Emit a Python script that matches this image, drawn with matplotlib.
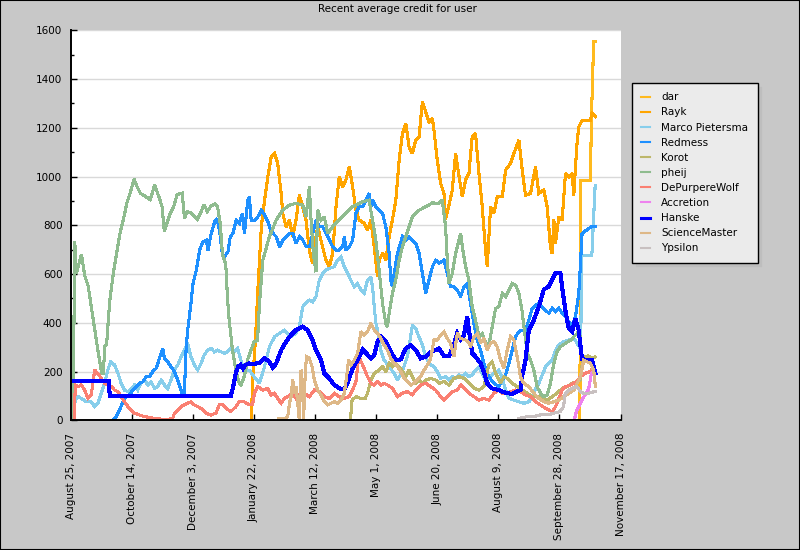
import datetime
import matplotlib
matplotlib.use('Agg')
import matplotlib.pyplot as plt
import matplotlib.dates as mdates
from matplotlib.ticker import MultipleLocator, FixedLocator, FuncFormatter
from matplotlib.patches import Rectangle

# Day offsets are counted from the first date on the x axis
start = datetime.datetime(2007, 8, 25)

dar_d = [416.7, 417.3, 425.3, 426.2, 427.3, 428.0, 429.3]
dar_v = [0, 985, 985, 1245, 1437, 1553, 1553]

rayk_d = [147.7, 149, 151.3, 153.3, 156, 158.7, 161.3, 164.1, 166.8, 169.4, 172.2, 173.5, 176.3, 179, 181.7,
          184.4, 187.1, 189.9, 192.6, 195.3, 198, 199.4, 202.1, 204.8, 208.9, 211.6, 214.4, 217.1, 219.8,
          222.5, 225.2, 228, 230.7, 233.4, 236.1, 240.2, 242.9, 245.6, 248.4, 251.1, 252.5, 255.2, 257.9,
          260.6, 263.3, 266.1, 268.8, 271.5, 274.2, 276.9, 279.6, 282.4, 285.1, 287.8, 290.5, 293.2, 296,
          297.3, 300, 302.7, 305.5, 306.8, 309.5, 312.3, 315, 317.7, 320.5, 323.2, 325.9, 328.6, 331.3,
          334.1, 336.8, 339.5, 340.9, 343.6, 346.3, 349.1, 353.2, 355.9, 360, 362.7, 366.8, 369.5, 372.2,
          376.3, 380.4, 383.1, 387.2, 389.9, 392.6, 394, 395.4, 396.7, 399.5, 402.2, 404.9, 407.6, 410.4,
          411.7, 413.1, 414.4, 415.8, 418.5, 425.3, 426.6, 429.4]
rayk_v = [0, 165, 343, 548, 794, 904, 999, 1081, 1095, 1054, 931, 849, 794, 822, 753,
          822, 924, 876, 822, 698, 644, 712, 794, 739, 657, 630, 685, 876, 999,
          958, 986, 1040, 958, 863, 822, 808, 780, 822, 712, 589, 657, 685, 657,
          753, 822, 904, 1068, 1177, 1218, 1122, 1095, 1149, 1163, 1307, 1266, 1225, 1238,
          1190, 1067, 973, 931, 826, 880, 945, 1095, 1004, 917, 986, 1013, 1163, 1177,
          1013, 876, 698, 630, 876, 849, 917, 917, 1027, 1054, 1095, 1149, 1027, 923,
          931, 1040, 931, 945, 876, 712, 685, 822, 726, 835, 822, 1013, 999, 1013,
          923, 1040, 1136, 1204, 1231, 1231, 1259, 1245]

marco_d = [2.7, 4, 6, 8.7, 12.8, 16.8, 19.6, 22.3, 25, 27.7, 30.4, 32.6, 35.9, 38.6, 41.3, 44, 46.8, 49.5,
           52.2, 54.9, 57.6, 60.4, 63.1, 65.8, 68.5, 71.2, 74, 76.7, 79.4, 82.1, 84.8, 87.6, 90.3, 93,
           95.7, 98.4, 101.2, 103.9, 106.6, 109.3, 112.1, 114.8, 117.5, 120.2, 122.9, 125.7, 128.4, 131.1,
           133.8, 136.5, 139.3, 142, 146.1, 150.1, 154.5, 158.6, 162.6, 166.8, 170.9, 175, 177.6, 180.3,
           184.4, 187.1, 188.5, 189.9, 192.6, 195.3, 198, 200.7, 203.4, 206.2, 208.9, 211.6, 215.7, 218.4,
           221.1, 223.9, 226.6, 229.3, 232, 234.8, 237.5, 240.2, 242.9, 245.6, 247, 248.4, 249.7, 251,
           253.7, 256.5, 260.5, 264.6, 267.4, 271.4, 275.5, 278.2, 279.6, 282.3, 285, 287.8, 290.5, 293.2,
           297.3, 300, 302.7, 306.8, 309.6, 312.3, 315, 317.7, 320.4, 323.2, 325.9, 328.6, 331.3, 334.1,
           336.8, 339.5, 342.2, 346.3, 350.4, 353.2, 355.9, 358.6, 362.7, 366.8, 370.9, 375, 377.8, 380.5,
           383.2, 385.9, 388.7, 391.4, 394.1, 396.8, 399.5, 403.6, 407.7, 411.8, 414.5, 417.3, 418.3,
           426.5, 429.2]
marco_v = [56, 83, 97, 90, 76, 76, 56, 70, 111, 152, 206, 240, 227, 193, 152, 124, 118, 131,
           145, 124, 152, 165, 145, 158, 131, 138, 165, 145, 131, 165, 206, 227, 261, 288,
           316, 261, 227, 206, 233, 268, 288, 295, 281, 288, 281, 275, 281, 295,
           281, 295, 247, 206, 206, 179, 152, 220, 302, 343, 357, 370, 357, 343,
           357, 384, 425, 466, 480, 493, 486, 507, 575, 602, 616, 623, 630, 657,
           671, 630, 602, 575, 548, 561, 534, 521, 575, 589, 548, 466, 400, 370,
           288, 247, 220, 193, 165, 200, 261, 343, 391, 377, 343, 309, 261, 233,
           220, 200, 172, 179, 165, 179, 172, 186, 179, 193, 179, 186, 206, 220,
           193, 165, 172, 193, 206, 172, 124, 90, 83, 76, 70, 76, 97, 131,
           152, 186, 220, 234, 247, 288, 309, 323, 329, 336, 316, 290, 677,
           677, 965]

redmess_d = [34.5, 37.2, 40, 42.7, 45.4, 48.1, 50.8, 53.6, 56.3, 59, 61.7, 64.4, 67.2, 69.9, 72.6, 75.3,
             76.7, 79.4, 82.1, 84.8, 87.6, 90.3, 91.6, 93, 94.4, 95.7, 97.1, 98.4, 100.1, 102.8, 105.5,
             108.2, 111, 112.3, 115, 117.8, 119.7, 121.8, 124, 125.9, 128.7, 130.6, 132.7, 135.4, 138.1,
             140.4, 142.2, 144.9, 146.2, 147.7, 150.5, 153.2, 156, 158.7, 161.4, 164.1, 168.2, 170.9,
             173.6, 176.3, 179.1, 181.8, 184.5, 187.2, 189.9, 192.6, 195.4, 198.1, 200.8, 203.5, 206.2,
             209, 211.7, 214.4, 217.1, 219.8, 222.5, 223.9, 225.3, 228, 230.7, 233.4, 236.1, 238.9,
             241.6, 244.3, 245.7, 247, 249.7, 252.4, 255.2, 257.9, 260.6, 262, 263.3, 264.7, 267.4,
             271.5, 274.2, 276.9, 279.6, 282.4, 285.1, 287.8, 290.5, 293.2, 296, 298.7, 301.4, 305.5,
             308.2, 310.9, 313.6, 316.4, 319.1, 321.8, 324.5, 327.2, 330, 332.7, 335.4, 338.1, 342.2,
             346.3, 350.4, 353.2, 355.9, 358.6, 361.3, 364.1, 366.8, 369.5, 372.2, 374.9, 377.7, 380.4,
             383.1, 385.8, 388.6, 391.3, 394, 396.7, 399.5, 402.2, 404.9, 407.6, 410.4, 413.1, 415.8,
             417.2, 418.5, 426, 429.2]
redmess_v = [0, 15, 42, 76, 97, 104, 124, 138, 152, 158, 179, 179, 200, 213, 254, 295,
             254, 240, 220, 200, 165, 124, 104, 111, 288, 370, 425, 480, 562, 616, 698,
             733, 739, 698, 767, 815, 828, 780, 685, 671, 692, 753, 767, 821, 808,
             849, 767, 903, 917, 821, 821, 835, 862, 842, 815, 774, 753, 712,
             739, 753, 767, 767, 726, 753, 739, 712, 712, 767, 821, 794, 794,
             767, 739, 712, 698, 698, 712, 753, 698, 712, 739, 849, 876, 876,
             903, 931, 876, 903, 876, 862, 849, 794, 685, 575, 548, 602, 685,
             753, 739, 753, 739, 726, 685, 602, 521, 575, 630, 657, 644, 657,
             602, 548, 548, 534, 507, 548, 562, 480, 397, 329, 288, 234, 179,
             152, 138, 165, 186, 234, 288, 343, 364, 370, 370, 411, 459, 473,
             480, 466, 452, 439, 459, 446, 459, 439, 425, 405, 391, 425, 521,
             644, 767, 794, 794]

korot_d = [228.9, 230.3, 231.7, 233.9, 237.1, 241, 242.9, 245.6, 248.4, 252.4, 255.2, 257.9, 260.6, 263.3,
           266.1, 270.1, 274.2, 276.9, 279.6, 282.4, 285.1, 287.8, 290.5, 294.6, 298.7, 301.4, 305.5,
           309.6, 313.6, 317.7, 321.8, 325.9, 330, 334.1, 338.1, 342.2, 344.9, 347.7, 351.8, 354.5,
           357.2, 361.3, 365.4, 369.5, 373.6, 377.7, 381.7, 385.8, 389.9, 394, 398.1, 402.2, 406.3,
           410.4, 414.4, 417.2, 419.2, 423.2, 427.3, 429.3]
korot_v = [0, 83, 90, 97, 90, 90, 111, 165, 193, 206, 220, 200, 233, 220,
           233, 213, 179, 206, 179, 152, 165, 152, 165, 172, 165, 152, 159,
           145, 172, 179, 172, 152, 131, 124, 138, 227, 240, 193, 152, 179,
           172, 152, 138, 124, 111, 97, 97, 97, 83, 97, 111, 131, 138,
           152, 159, 165, 261, 264, 254, 260]

pheij_d = [1.9, 3.3, 4.7, 8.8, 11.5, 14.3, 18.4, 22.5, 25.3, 26.6, 28, 29.4, 30.8, 32.1, 34.9, 37.6, 40.4,
           43.1, 45.9, 48.6, 51.9, 54.1, 56.9, 61, 65.1, 68.7, 72, 74.7, 76.6, 78.8, 81.6, 84.3, 87.1,
           91.2, 93.1, 95.3, 98.1, 100.8, 103.6, 106.3, 109.1, 111.8, 114.6, 117.9, 120.1, 122.3, 124.2,
           126.9, 128.3, 129.7, 132.4, 135.2, 137.9, 139.3, 142, 144.7, 147.5, 150.1, 152.9, 154.5,
           157.2, 162.6, 168.1, 173.5, 179, 184.4, 189.9, 192.6, 195.3, 196.7, 198.6, 200.7, 202.1,
           204.8, 207.5, 210.3, 214.4, 219.8, 225.2, 230.7, 238.8, 244.2, 247, 249.7, 252.4, 255.2,
           257.9, 259.2, 260.6, 263.3, 266, 268.8, 271.5, 274.2, 276.9, 279.6, 285.1, 290.5, 296,
           301.4, 304.1, 306.8, 308.2, 309.6, 312.3, 315, 317.7, 319.1, 320.5, 323.2, 325.9, 328.6,
           331.3, 334.1, 336.8, 338.1, 341, 343, 345, 347.7, 350.4, 353.2, 355.9, 358.6, 361.3, 364.1,
           366.8, 369.5, 370.9, 373.6, 376.3, 379, 381.7, 384.5, 387.2, 389.9, 392.6, 395.4, 398.1,
           400.8, 404.9, 409, 411.8, 414.5, 417.2]
pheij_v = [0, 735, 605, 680, 592, 550, 414, 278, 196, 190, 305, 312, 414, 496, 605, 687, 769,
           823, 892, 932, 990, 960, 932, 919, 905, 967, 919, 878, 776, 810, 851, 878, 926,
           932, 830, 857, 851, 837, 823, 851, 885, 857, 878, 887, 878, 810, 680,
           640, 500, 411, 288, 206, 152, 145, 179, 247, 288, 322, 329, 480,
           657, 753, 821, 862, 883, 890, 883, 835, 958, 821, 685, 609, 862,
           821, 835, 767, 794, 821, 849, 876, 897, 903, 821, 739, 616, 479,
           397, 384, 438, 521, 575, 657, 712, 753, 794, 835, 862, 876, 892,
           890, 903, 794, 657, 562, 602, 685, 739, 767, 712, 630, 575, 466,
           411, 343, 357, 336, 302, 329, 384, 459, 466, 521, 507, 534, 562, 555,
           521, 446, 384, 275, 247, 206, 138, 111, 97, 104, 152, 234, 282,
           302, 316, 329, 343, 357, 343]

wolf_d = [2.7, 3.8, 6, 8.7, 11.4, 14.1, 16.8, 19.6, 22.3, 25, 27.7, 30.4, 33.2, 35.9, 38.6, 41.3, 44, 46.8,
          49.5, 52.2, 56.3, 60.4, 64.4, 68.5, 74, 79.4, 83.5, 84.8, 87.6, 90.3, 93, 95.7, 98.4, 101.2,
          103.9, 106.6, 110.7, 114.8, 118.8, 121.6, 124.3, 127, 131.1, 135.2, 137.9, 142, 146.1, 148.8,
          150.4, 153.1, 157.2, 161.3, 164, 166.7, 169.4, 172.2, 174.9, 177.6, 181.7, 184.4, 187.1, 191.2,
          195.3, 199.4, 203.4, 207.5, 211.6, 215.7, 219.8, 223.9, 227.9, 230.7, 233.4, 235.2, 237.1,
          240.2, 242.9, 245.6, 248.4, 251.1, 253.8, 256.5, 259.2, 263.3, 267.4, 271.5, 275.5, 279.6,
          282.4, 286.4, 290.5, 294.6, 298.7, 302.7, 305.5, 308.2, 312.3, 316.4, 319.1, 323.2, 325.9,
          330, 334.1, 338.1, 342.2, 346.3, 350.4, 353.2, 357.2, 360, 364.1, 368.2, 372.2, 376.3, 380.4,
          384.5, 388.6, 391.3, 394, 396.8, 399.5, 402.2, 404.9, 409, 411.7, 414.4, 417.2, 421.2, 425.3,
          428]
wolf_v = [0, 145, 138, 145, 124, 90, 104, 206, 192, 172, 152, 145, 138, 124, 118, 97, 76, 56,
          42, 29, 22, 15, 12, 8, 5, 4, 8, 29, 42, 56, 63, 70, 76, 63,
          56, 49, 29, 22, 29, 63, 63, 49, 36, 56, 76, 76, 63, 63,
          111, 138, 124, 131, 104, 111, 90, 70, 90, 97, 111, 90, 104, 111,
          97, 124, 118, 97, 90, 111, 97, 90, 97, 124, 158, 240, 247,
          213, 179, 152, 145, 158, 145, 152, 145, 131, 97, 111, 118, 104,
          124, 145, 152, 138, 124, 97, 83, 97, 117, 124, 145, 124, 111,
          97, 83, 90, 83, 111, 124, 111, 111, 117, 124, 117, 104, 97, 76,
          63, 49, 42, 35, 56, 90, 124, 138, 145, 152, 159, 179, 193, 200,
          220]

accretion_d = [368.5, 412, 414, 417, 420, 423, 424.5, 425.5, 426.5]
accretion_v = [0, 0, 40, 70, 97, 120, 140, 180, 195]

hanske_d = [0, 31, 32, 131, 133, 135, 137, 139, 141, 143, 146, 150, 154.5, 158.6, 162.6, 165.4, 168.1, 172.2,
            176.2, 180.3, 184.4, 189.9, 193.9, 198, 200.7, 204.8, 207.5, 211.6, 215.7, 219.8, 223.9, 226.6,
            229.3, 232, 234.8, 238.9, 241.5, 245.6, 248.4, 251.1, 253.8, 257.9, 262, 266.1, 270.1, 274.2,
            278.3, 282.4, 286.4, 290.5, 294.6, 298.7, 301.4, 305.5, 309.6, 313.6, 316.3, 319.1, 321.8,
            324.5, 325.9, 328.6, 331.3, 335.4, 338.1, 340.8, 344.9, 350.4, 355.8, 361.3, 364.8, 368.1,
            369.4, 372.2, 374.9, 379, 383.1, 387.2, 391.2, 393.9, 396.7, 400.8, 402.1, 404.8, 407.6, 410.3,
            413, 415.7, 418.5, 426.6, 429.3]
hanske_v = [162, 162, 101, 101, 138, 192, 220, 227, 213, 227, 233, 231, 236, 254, 240, 217, 233, 288,
            322, 350, 370, 384, 370, 329, 288, 247, 193, 172, 145, 131, 127, 152,
            193, 227, 247, 291, 277, 254, 268, 322, 343, 322, 281, 247, 250, 295,
            309, 288, 254, 261, 281, 288, 295, 264, 264, 309, 357, 332, 350,
            425, 370, 275, 261, 234, 199, 152, 131, 124, 113, 108, 117, 124,
            179, 247, 370, 411, 466, 537, 548, 575, 603, 603, 548, 452, 377, 364,
            418, 370, 250, 247, 193]

science_d = [170.3, 176.2, 177.6, 179, 180.3, 181.7, 183.1, 184.4, 185.8, 187.1, 188.5, 189.9, 190.6, 192,
             193.1, 195.3, 197.5, 199.4, 202.1, 204.8, 207.5, 210.3, 213, 215.7, 218.4, 221.1, 223.9,
             225.8, 227.4, 229.3, 232, 234.8, 237.5, 240.2, 242.9, 245.6, 248.4, 251.1, 253.8, 256.5,
             259.2, 262, 264.7, 267.4, 270.1, 272.8, 275.5, 278.3, 281, 283.7, 286.4, 289.2, 291.9,
             294.6, 297.3, 300, 302.7, 305.5, 308.2, 310.9, 313.6, 316.4, 319.1, 323.2, 325.9, 327.3,
             330, 332.7, 335.4, 338.1, 340.9, 343.6, 346.3, 349, 351.8, 354.5, 357.2, 359.9, 362.7,
             365.4, 368.1, 370.8, 374.9, 379, 383.1, 387.2, 391.3, 395.4, 399.5, 403.6, 407.7, 411.8,
             414.5, 417.2, 419.9, 422.6, 425.3, 428, 429.4]
science_v = [8, 8, 15, 70, 97, 165, 111, 138, 70, 0, 206, 145, 0, 206,
             261, 254, 220, 165, 124, 104, 76, 63, 70, 76, 70, 83, 111,
             179, 247, 227, 247, 275, 364, 350, 364, 398, 370, 357, 336, 309,
             288, 254, 233, 220, 200, 172, 158, 145, 152, 165, 179, 206, 227,
             254, 330, 329, 350, 364, 336, 316, 261, 357, 336, 329, 316, 302,
             343, 357, 316, 336, 288, 316, 323, 302, 247, 213, 288, 343, 329,
             261, 179, 152, 138, 111, 90, 76, 70, 76, 83, 97, 111, 124,
             152, 179, 247, 240, 234, 206, 138]

ypsilon_d = [366.7, 373.5, 379, 384.3, 390, 395.2, 400.6, 403.3, 404.7, 407.5, 410.2, 414.4, 417.2, 419.9,
             424, 428, 429.5]
ypsilon_v = [8, 15, 15, 22, 22, 29, 36, 56, 111, 124, 131, 138, 117, 111, 111, 117, 117]

names = ['dar', 'Rayk', 'Marco Pietersma', 'Redmess', 'Korot', 'pheij', 'DePurpereWolf',
         'Accretion', 'Hanske', 'ScienceMaster', 'Ypsilon']
colours = ['#FFBA1E', '#FFA500', '#87CEEB', '#1E90FF', '#BDB76B', '#8FBC8F', '#FA8072',
           '#EE82EE', '#0000FF', '#DEB887', '#C8C0C0']
series = [(dar_d, dar_v), (rayk_d, rayk_v), (marco_d, marco_v), (redmess_d, redmess_v),
          (korot_d, korot_v), (pheij_d, pheij_v), (wolf_d, wolf_v), (accretion_d, accretion_v),
          (hanske_d, hanske_v), (science_d, science_v), (ypsilon_d, ypsilon_v)]

y_ticks = [0, 200, 400, 600, 800, 1000, 1200, 1400, 1600]
x_tick_days = [0, 50, 100, 150, 200, 250, 300, 350, 400, 450]


def to_dates(days):
    return [start + datetime.timedelta(days=d) for d in days]


fig = plt.figure(figsize=(8, 5.5), dpi=100, facecolor='#C8C8C8')
ax = fig.add_axes([0.0884, 0.2358, 0.6873, 0.7091])
ax.set_facecolor('white')

for (d, v), name, col in zip(series, names, colours):
    lw = 2.2 if name == 'Hanske' else 1.5
    ax.plot(to_dates(d), v, color=col, lw=lw, label=name, antialiased=False,
            solid_joinstyle='miter')

ax.set_xlim(start, start + datetime.timedelta(days=450))
ax.set_ylim(0, 1600)

ax.xaxis.set_major_locator(FixedLocator(mdates.date2num(to_dates(x_tick_days))))


def date_label(x, pos):
    dt = mdates.num2date(x)
    return '%s %d, %d' % (dt.strftime('%B'), dt.day, dt.year)


ax.xaxis.set_major_formatter(FuncFormatter(date_label))
ax.set_yticks(y_ticks)
ax.yaxis.set_minor_locator(MultipleLocator(100))

for lab in ax.get_xticklabels():
    lab.set_rotation(90)
ax.tick_params(axis='x', direction='in', length=4.5, width=1, pad=9, labelsize=7.5)
ax.tick_params(axis='y', which='major', direction='in', length=4.5, width=1, pad=6, labelsize=7.5)
ax.tick_params(axis='y', which='minor', direction='in', length=2.5, width=1)

ax.grid(axis='y', color='#D9D9D9', lw=1)
ax.set_axisbelow(True)
for side in ['top', 'right']:
    ax.spines[side].set_visible(False)
for side in ['left', 'bottom']:
    ax.spines[side].set_linewidth(1.4)

fig.text(397 / 800, 1 - 9 / 550, 'Recent average credit for user', ha='center', va='center', fontsize=7.5)

leg = ax.legend(loc='upper left', bbox_to_anchor=(632 / 800, 1 - 83 / 550), bbox_transform=fig.transFigure,
                borderaxespad=0, fontsize=7.5, handlelength=0.8, handletextpad=1.1, borderpad=0.9,
                labelspacing=0.49, fancybox=False, framealpha=1, facecolor='#EBEBEB', edgecolor='black',
                shadow={'color': '#BEBEBE', 'alpha': 1, 'ox': 2.6, 'oy': -2.6})
leg.get_frame().set_linewidth(1)

fig.patches.append(Rectangle((0, 0), 1, 1, transform=fig.transFigure, fill=False,
                             edgecolor='black', lw=1.5))

fig.savefig('out.png', dpi=100, facecolor=fig.get_facecolor())
